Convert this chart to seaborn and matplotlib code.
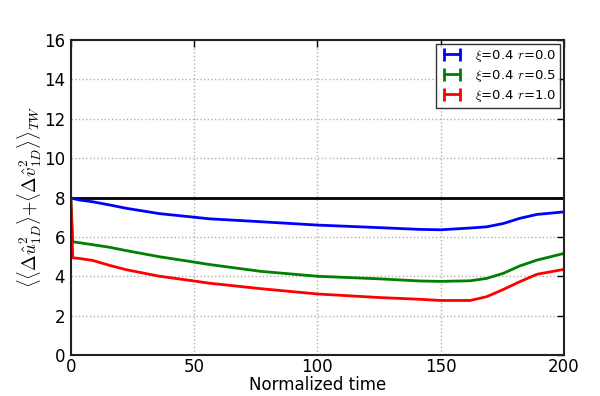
import numpy as np
import pandas as pd
import matplotlib
matplotlib.use("Agg")
import matplotlib.pyplot as plt
import seaborn as sns

# ---- data ----
time = [0, 0.8, 3.7, 9, 15.8, 22.6, 36, 50, 56, 77, 100, 125, 141.6, 150, 161.9, 168.6, 175.4, 182, 189, 200]
r00 = [8.0, 7.95, 7.87, 7.78, 7.62, 7.45, 7.18, 7.0, 6.92, 6.77, 6.6, 6.47, 6.38, 6.36, 6.45, 6.51, 6.68, 6.94, 7.14, 7.27]
r05 = [8.0, 5.75, 5.7, 5.6, 5.47, 5.3, 4.99, 4.72, 4.6, 4.25, 4.0, 3.87, 3.76, 3.74, 3.77, 3.89, 4.15, 4.52, 4.82, 5.16]
r10 = [8.0, 4.94, 4.9, 4.8, 4.55, 4.33, 4.0, 3.76, 3.65, 3.37, 3.1, 2.92, 2.83, 2.77, 2.77, 2.96, 3.33, 3.72, 4.10, 4.35]
labels = [r"$\xi$=0.4 $r$=0.0", r"$\xi$=0.4 $r$=0.5", r"$\xi$=0.4 $r$=1.0"]
colors = ["#0000ff", "#008000", "#ff0000"]
ref_level = 8.0
xticks = [0, 50, 100, 150, 200]
yticks = [0, 2, 4, 6, 8, 10, 12, 14, 16]

df = pd.concat([
    pd.DataFrame({"t": time, "v": vals, "series": lab})
    for vals, lab in zip([r00, r05, r10], labels)
])

sns.set_style("white")
plt.rcParams["font.family"] = ["DejaVu Sans"]
plt.rcParams["mathtext.fontset"] = "cm"
plt.rcParams["text.color"] = "black"
plt.rcParams["axes.labelcolor"] = "black"
plt.rcParams["xtick.color"] = "black"
plt.rcParams["ytick.color"] = "black"

fig = plt.figure(figsize=(6, 3.96), dpi=100)
ax = fig.add_axes([0.118, 0.1035, 0.822, 0.7955])

sns.lineplot(data=df, x="t", y="v", hue="series", palette=dict(zip(labels, colors)),
             linewidth=2, ax=ax, legend=False)
ax.axhline(ref_level, color="black", linewidth=2, zorder=1)

ax.set_xlim(0, 200)
ax.set_ylim(0, 16)
ax.set_xticks(xticks)
ax.set_yticks(yticks)
ax.grid(True, linestyle=":", color="#b0b0b0", linewidth=1)
ax.tick_params(direction="in", top=True, right=True, length=5, width=1, labelsize=12)
ax.tick_params(axis="x", pad=2)
ax.tick_params(axis="y", pad=4)
for s in ax.spines.values():
    s.set_color("#222222")
    s.set_linewidth(1.5)
ax.set_xlabel("Normalized time", fontsize=12, labelpad=0)
ax.set_ylabel(r"$\langle\langle\Delta\hat{u}_{1D}^2\rangle{+}\langle\Delta\hat{v}_{1D}^2\rangle\rangle_{TW}$",
              fontsize=13.5, labelpad=0)

handles = []
for lab, c in zip(labels, colors):
    h = ax.errorbar([np.nan, np.nan], [np.nan, np.nan], yerr=[np.nan, np.nan], color=c,
                    linewidth=2, elinewidth=2, capsize=0, label=lab)
    handles.append(h)
leg = ax.legend(handles=handles, loc="upper right", fontsize=9.5, frameon=True,
                fancybox=False, edgecolor="black", borderaxespad=0.3, handlelength=1.8,
                numpoints=2, borderpad=0.3, labelspacing=0.3)
leg.get_frame().set_linewidth(1)

fig.savefig("out.png", dpi=100)
